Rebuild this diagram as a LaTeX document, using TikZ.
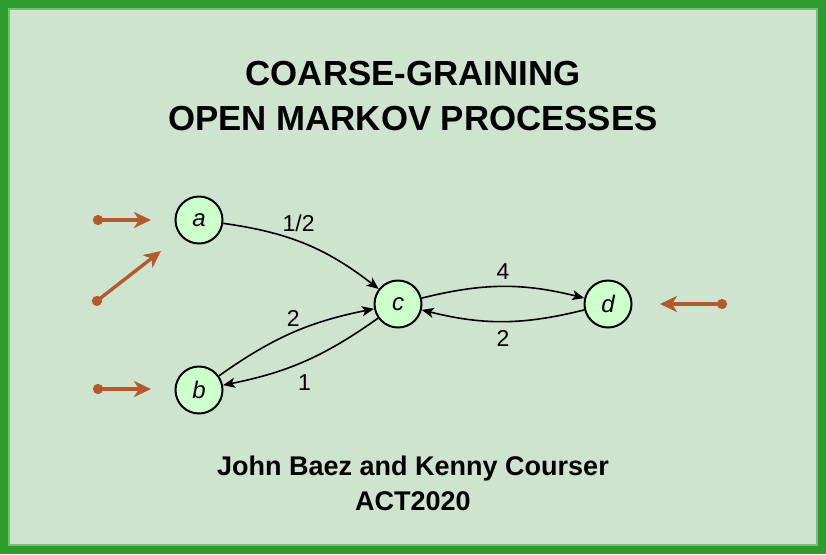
\documentclass[tikz,border=0pt]{standalone}
\usepackage{fontspec}
\setmainfont{Liberation Sans}
\usetikzlibrary{arrows.meta}

\definecolor{paper}{RGB}{207,228,207}
\definecolor{frame}{RGB}{46,155,46}
\definecolor{framelight}{RGB}{120,190,120}
\definecolor{statefill}{RGB}{204,255,204}
\definecolor{inflow}{RGB}{178,89,45}

\tikzset{
  state/.style={circle, draw, line width=1pt, fill=statefill, minimum size=23.5pt, inner sep=0pt, font=\fontsize{12}{14}\selectfont\itshape},
  rate/.style={font=\fontsize{11.5}{13}\selectfont},
  flow/.style={draw=inflow, line width=1.7pt, {Circle[length=5pt]}-{Stealth[length=8.5pt, width=8pt, inset=2.5pt]}}
}

\begin{document}
\begin{tikzpicture}[x=0.5pt, y=-0.5pt, >={Stealth[length=6pt, width=5pt, inset=1.5pt]}]
\useasboundingbox (0,0) rectangle (826,554);
\fill[paper] (0,0) rectangle (826,554);
\draw[frame, line width=4pt] (4,4) rectangle (822,550);
\draw[framelight, line width=1pt] (9,9) rectangle (817,545);

% title and authors
\path (413,85) node[anchor=base, font=\fontsize{17.4}{21}\selectfont\bfseries] (title1) {COARSE-GRAINING}
	  (413,130) node[anchor=base, font=\fontsize{17.4}{21}\selectfont\bfseries] (title2) {OPEN MARKOV PROCESSES};
\path (413,475) node[anchor=base, font=\fontsize{13.5}{16}\selectfont\bfseries] (who) {John Baez and Kenny Courser}
	  (413,510) node[anchor=base, font=\fontsize{13.5}{16}\selectfont\bfseries] (where) {ACT2020};

% states
\path (199,220) node[state] (a) {a}
	  (199,390) node[state] (b) {b}
	  (398,304) node[state] (c) {c}
	  (608,304) node[state] (d) {d};

\draw[->, line width=0.8pt] (a) to[bend left=15] node [rate, above, pos=0.45, yshift=1pt] {1/2} (c);
\draw[->, line width=0.8pt] (b) to[bend left=12] node [rate, above, pos=0.45, xshift=4pt, yshift=1pt] {2} (c);
\draw[->, line width=0.8pt] (c) to[bend left=12] node [rate, below, pos=0.5, yshift=-3pt] {1} (b);
\draw[->, line width=0.8pt] (c) to[bend left=14] node [rate, above, yshift=0pt] {4} (d);
\draw[->, line width=0.8pt] (d) to[bend left=14] node [rate, below, yshift=-1pt] {2} (c);

% inputs and outputs
\coordinate (ina) at (93,220);
\coordinate (ina') at (151,220);
\coordinate (inm) at (93,304);
\coordinate (inm') at (161,251);
\coordinate (inb) at (93,389);
\coordinate (inb') at (151,389);
\coordinate (ind) at (727,304);
\coordinate (ind') at (660,304);
\draw[flow] (ina) -- (ina');
\draw[flow] (inm) -- (inm');
\draw[flow] (inb) -- (inb');
\draw[flow] (ind) -- (ind');
\end{tikzpicture}
\end{document}
